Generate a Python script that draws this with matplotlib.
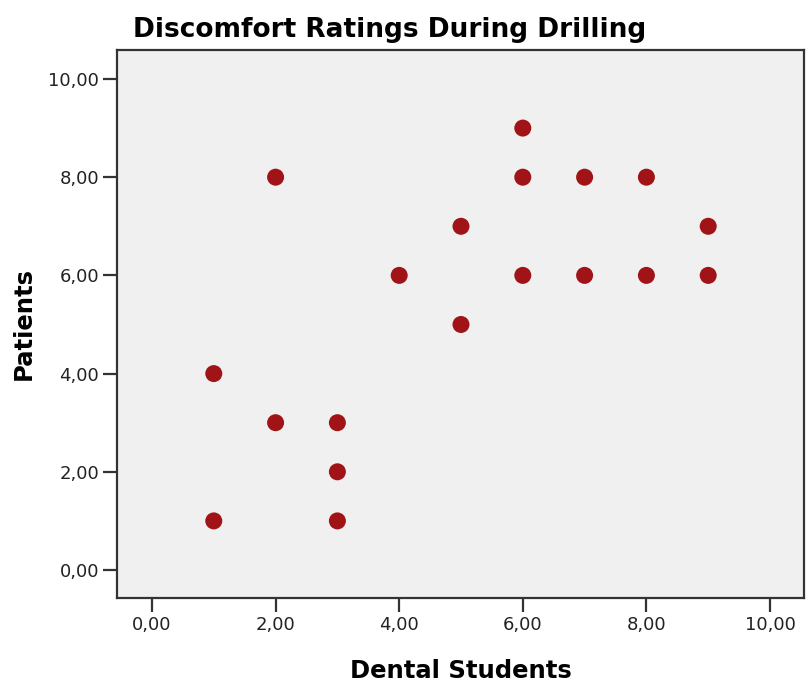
import matplotlib
matplotlib.use("Agg")
import matplotlib.pyplot as plt
from matplotlib.ticker import FuncFormatter

dental_students = [1, 1, 2, 2, 3, 3, 3, 4, 5, 5, 6, 6, 6, 7, 7, 8, 8, 9, 9]
patients        = [1, 4, 3, 8, 1, 2, 3, 6, 5, 7, 6, 8, 9, 6, 8, 6, 8, 6, 7]
ticks = [0, 2, 4, 6, 8, 10]

plt.rcParams['font.family'] = ['DejaVu Sans']

fig = plt.figure(figsize=(8.06, 6.86), dpi=100)
ax = fig.add_axes([117/806, 88/686, 687/806, 548/686])
ax.set_facecolor('#F0F0F0')
ax.scatter(dental_students, patients, s=150, color='#A01418', edgecolors='none', zorder=3)

ax.set_xlim(-0.566, 10.55)
ax.set_ylim(-0.57, 10.59)
ax.set_xticks(ticks)
ax.set_yticks(ticks)
fmt = FuncFormatter(lambda v, p: f"{v:.2f}".replace('.', ','))
ax.xaxis.set_major_formatter(fmt)
ax.yaxis.set_major_formatter(fmt)
ax.tick_params(direction='out', length=10, width=1.6, color='#333333',
               labelsize=13, labelcolor='#222222', pad=3)
for s in ax.spines.values():
    s.set_color('#333333')
    s.set_linewidth(1.6)

ax.set_xlabel('Dental Students', fontsize=17.5, fontweight='bold', labelpad=18)
ax.set_ylabel('Patients', fontsize=17.5, fontweight='bold', labelpad=9)
fig.text(133/806, 1 - 30/686, 'Discomfort Ratings During Drilling', fontsize=19,
         fontweight='bold', ha='left', va='center')

fig.savefig('out.png', dpi=100)
